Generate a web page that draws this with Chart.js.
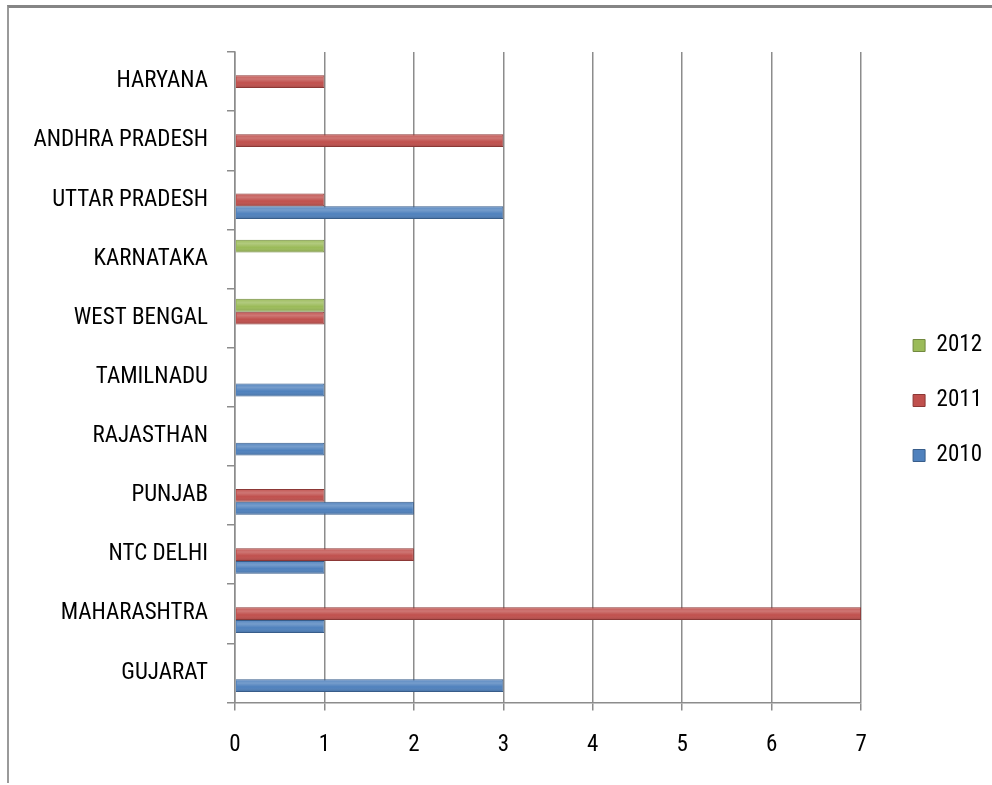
<!DOCTYPE html>
<html>
<head>
<meta charset="utf-8">
<script src="https://cdn.jsdelivr.net/npm/chart.js@4/dist/chart.umd.min.js"></script>
<style>
  html, body { margin: 0; padding: 0; background: #fff; }
  #wrap { position: relative; width: 992px; height: 785px; overflow: hidden; }
  #frame { position: absolute; left: 7px; top: 5px; right: -4px; bottom: 2px;
           border-top: 3px solid #858585; border-left: 2px solid #9a9a9a; }
  canvas { position: absolute; left: 0; top: 0; }
</style>
</head>
<body>
<div id="wrap">
  <div id="frame"></div>
  <canvas id="stateChart" width="992" height="785"></canvas>
</div>
<script>
const states = ['HARYANA', 'ANDHRA PRADESH', 'UTTAR PRADESH', 'KARNATAKA', 'WEST BENGAL',
  'TAMILNADU', 'RAJASTHAN', 'PUNJAB', 'NTC DELHI', 'MAHARASHTRA', 'GUJARAT'];
const years = ['2012', '2011', '2010'];
const values2012 = [0, 0, 0, 1, 1, 0, 0, 0, 0, 0, 0];
const values2011 = [1, 3, 1, 0, 1, 0, 0, 1, 2, 7, 0];
const values2010 = [0, 0, 3, 0, 0, 1, 1, 2, 1, 1, 3];
const xTicks = [0, 1, 2, 3, 4, 5, 6, 7];

const fontFamily = "'Liberation Sans Narrow', 'Arial Narrow', 'Roboto Condensed', 'Liberation Sans', sans-serif";

// soft shading on each bar, a bit like the cylinder look of the original
const barShine = {
  id: 'barShine',
  afterDatasetsDraw(chart) {
    const c = chart.ctx;
    chart.data.datasets.forEach((ds, i) => {
      chart.getDatasetMeta(i).data.forEach(bar => {
        const len = bar.x - bar.base;
        if (len <= 1) return;
        const top = bar.y - bar.height / 2;
        const g = c.createLinearGradient(0, top, 0, top + bar.height);
        g.addColorStop(0, 'rgba(255,255,255,0.05)');
        g.addColorStop(0.3, 'rgba(255,255,255,0.22)');
        g.addColorStop(0.6, 'rgba(255,255,255,0)');
        g.addColorStop(1, 'rgba(0,0,0,0.18)');
        c.save();
        c.fillStyle = g;
        c.fillRect(bar.base + 1, top + 1, len - 2, bar.height - 2);
        c.restore();
      });
    });
  }
};

const ctx = document.getElementById('stateChart').getContext('2d');
new Chart(ctx, {
  type: 'bar',
  data: {
    labels: states,
    datasets: [
      { label: years[0], data: values2012, backgroundColor: '#9bbb59', borderColor: '#71893f', borderWidth: 1 },
      { label: years[1], data: values2011, backgroundColor: '#c0504d', borderColor: '#8c3836', borderWidth: 1 },
      { label: years[2], data: values2010, backgroundColor: '#4f81bd', borderColor: '#385d8a', borderWidth: 1 }
    ]
  },
  options: {
    indexAxis: 'y',
    responsive: false,
    animation: false,
    categoryPercentage: 0.65,
    barPercentage: 1.0,
    layout: { padding: { top: 52, bottom: 5, left: 0, right: 0 } },
    plugins: {
      tooltip: { enabled: false },
      legend: {
        position: 'right',
        align: 'start',
        title: { display: true, text: ' ', padding: 119, font: { size: 10 } },
        labels: {
          boxWidth: 12,
          boxHeight: 12,
          padding: 32,
          color: '#000',
          font: { family: fontFamily, size: 23 }
        }
      }
    },
    scales: {
      x: {
        min: 0,
        max: 7,
        afterBuildTicks: function(scale) {
          scale.ticks = xTicks.map(v => ({ value: v }));
        },
        grid: { color: '#8c8c8c', lineWidth: 1.5, tickLength: 8, tickColor: '#8c8c8c' },
        border: { color: '#8c8c8c', width: 1.5 },
        ticks: { color: '#000', padding: 21, font: { family: fontFamily, size: 23 } }
      },
      y: {
        afterFit: function(scale) { scale.width = 235; },
        grid: { drawOnChartArea: false, tickLength: 8, color: '#8c8c8c', lineWidth: 1.5 },
        border: { color: '#8c8c8c', width: 1.5 },
        ticks: { color: '#000', padding: 19, autoSkip: false, font: { family: fontFamily, size: 23 } }
      },
      gap: {
        type: 'linear',
        position: 'right',
        display: true,
        afterFit: function(scale) { scale.width = 20; },
        grid: { display: false },
        border: { display: false },
        ticks: { display: false }
      }
    }
  },
  plugins: [barShine]
});
</script>
</body>
</html>
